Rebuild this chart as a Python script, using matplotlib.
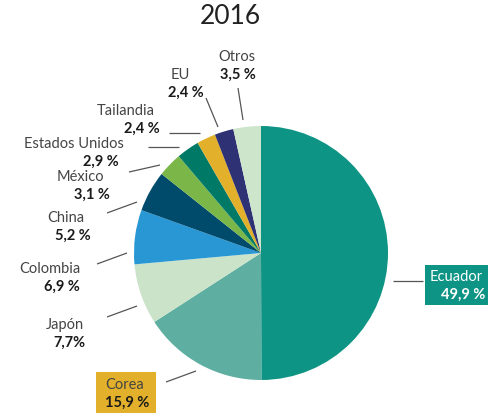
import matplotlib
matplotlib.use("Agg")
import matplotlib.pyplot as plt
from matplotlib.patches import Rectangle

plt.rcParams['font.family'] = ['Lato', 'DejaVu Sans']

countries = ["Ecuador", "Corea", "Japón", "Colombia", "China", "México",
             "Estados Unidos", "Tailandia", "EU", "Otros"]
values = [49.9, 15.9, 7.7, 6.9, 5.2, 3.1, 2.9, 2.4, 2.4, 3.5]
value_labels = ["49,9 %", "15,9 %", "7,7%", "6,9 %", "5,2 %", "3,1 %",
                "2,9 %", "2,4 %", "2,4 %", "3,5 %"]
colors = ["#0E9484", "#5FAEA2", "#CBE3C9", "#2897D4", "#004A6C", "#7AB648",
          "#007A66", "#E2B02A", "#2E3174", "#CDE5CB"]

W, H = 488, 413
fig = plt.figure(figsize=(W / 100, H / 100), dpi=100)
ax = fig.add_axes([0, 0, 1, 1])

def Y(y):
    return H - y

ax.pie(values, colors=colors, startangle=90, counterclock=False,
       center=(261, Y(253)), radius=127, frame=True,
       wedgeprops=dict(linewidth=0))
ax.set_xlim(0, W)
ax.set_ylim(0, H)
ax.set_aspect('equal')
ax.axis('off')

ax.text(230, Y(16), "2016", ha='center', va='center', fontsize=19,
        fontweight='normal', color='#222222')

# label name positions (x, y of name), ha, value x
label_pos = {
    "Otros": (237, 57, 'center', 238),
    "EU": (180, 75, 'center', 186),
    "Tailandia": (126, 111, 'center', 142),
    "Estados Unidos": (74, 144, 'center', 101),
    "México": (80, 177, 'center', 92),
    "China": (66, 218, 'center', 73),
    "Colombia": (50, 269, 'center', 62),
    "Japón": (65, 325, 'center', 69),
    "Corea": (125, 385, 'center', 127),
    "Ecuador": (456, 277, 'center', 463),
}
lines = {
    "Otros": ((238, 88), (243, 120)),
    "EU": ((206, 98), (218, 127)),
    "Tailandia": ((169, 133), (200, 133)),
    "Estados Unidos": ((148, 147), (179, 147)),
    "México": ((129, 172), (160, 165)),
    "China": ((107, 213), (137, 202)),
    "Colombia": ((97, 264), (127, 253)),
    "Japón": ((107, 317), (137, 306)),
    "Corea": ((166, 382), (196, 371)),
    "Ecuador": ((393, 281), (423, 281)),
}

ax.add_patch(Rectangle((425, Y(305)), 63, 40, facecolor="#0E9484", edgecolor='none'))
ax.add_patch(Rectangle((96, Y(413)), 60, 41, facecolor="#E2B02A", edgecolor='none'))

for c, v in zip(countries, value_labels):
    x, y, ha, vx = label_pos[c]
    tc = 'white' if c == "Ecuador" else '#444444'
    vc = 'white' if c == "Ecuador" else '#1a1a1a'
    ax.text(x, Y(y), c, ha=ha, va='center', fontsize=10.5, color=tc,
            fontweight='normal')
    ax.text(vx, Y(y + 18), v, ha='center', va='center', fontsize=10.5,
            color=vc, fontweight='bold')
    (x1, y1), (x2, y2) = lines[c]
    ax.plot([x1, x2], [Y(y1), Y(y2)], color='#555555', lw=0.9,
            solid_capstyle='butt')

fig.savefig("out.png", dpi=100)
